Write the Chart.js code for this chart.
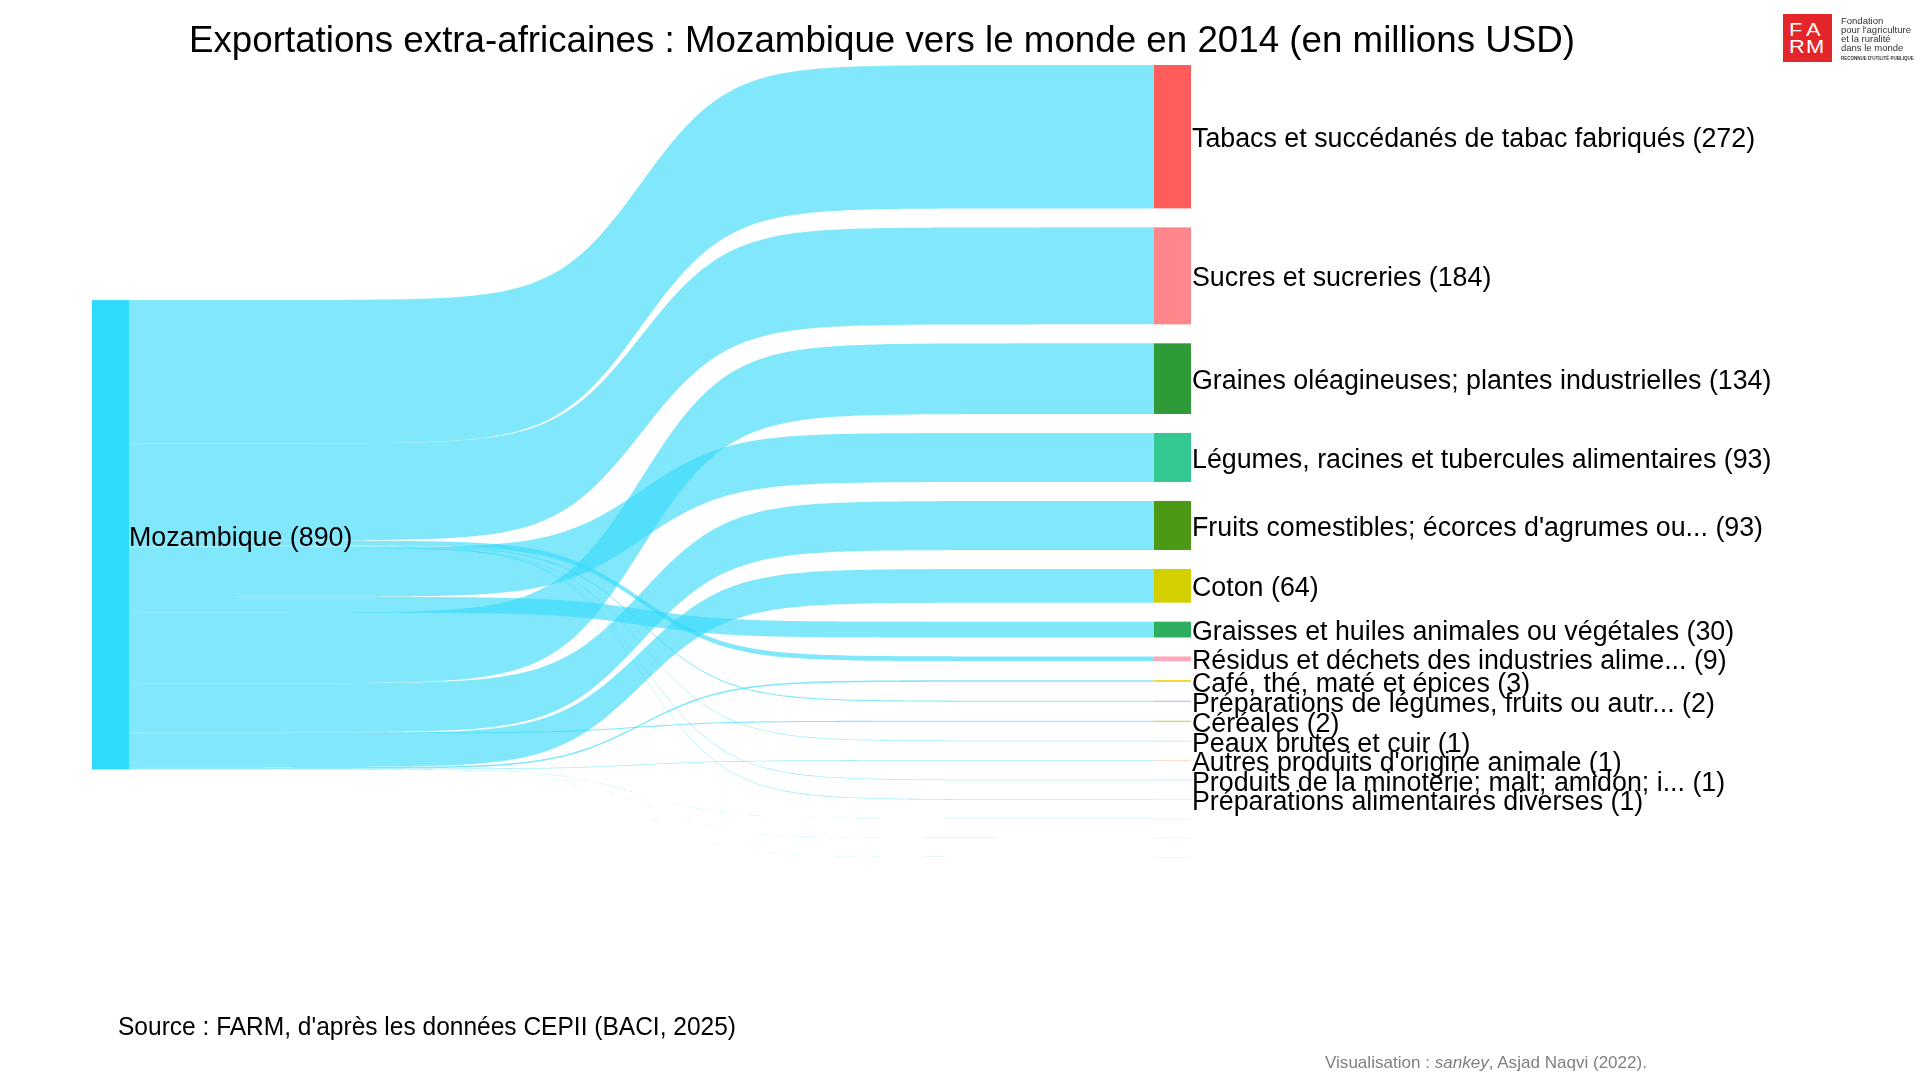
<!DOCTYPE html>
<html>
<head>
<meta charset="utf-8">
<script src="https://cdn.jsdelivr.net/npm/chart.js@4.4.1/dist/chart.umd.min.js"></script>
<style>
html,body{margin:0;padding:0;background:#fff;}
#wrap{position:relative;width:1920px;height:1080px;overflow:hidden;font-family:'Liberation Sans',Arial,sans-serif;background:#fff;}
#c{position:absolute;left:0;top:0;}
.txt{position:absolute;white-space:nowrap;line-height:1;transform-origin:0 0;}
#title{left:189px;top:21px;font-size:37px;color:#000;}
#source{left:118px;top:1013px;font-size:26px;color:#000;}
#viz{left:1325px;top:1054px;font-size:17px;color:#808080;}
#logo{position:absolute;left:1783px;top:14px;width:49px;height:48px;background:#E4252A;color:#fff;font-size:17.5px;line-height:1;}
#logo span{position:absolute;font-weight:500;transform:scaleX(1.25);transform-origin:0 0;}
#logotxt{position:absolute;left:1841px;top:16px;font-size:9.5px;line-height:9px;color:#333;}
#logotxt .small{font-size:4.5px;font-weight:bold;line-height:8px;}
</style>
</head>
<body>
<div id="wrap">
  <canvas id="c" width="1920" height="1080"></canvas>
  <div id="title" class="txt">Exportations extra-africaines : Mozambique vers le monde en 2014 (en millions USD)</div>
  <div id="source" class="txt">Source : FARM, d'après les données CEPII (BACI, 2025)</div>
  <div id="viz" class="txt">Visualisation : <i>sankey</i>, Asjad Naqvi (2022).</div>
  <div id="logo"><span style="left:6px;top:8px">F</span><span style="left:23px;top:8px">A</span><span style="left:6px;top:25px">R</span><span style="left:23px;top:25px">M</span></div>
  <div id="logotxt">Fondation<br>pour l'agriculture<br>et la ruralité<br>dans le monde<br><span class="small">RECONNUE D'UTILITÉ PUBLIQUE</span></div>
</div>
<script>
// ---------------- DATA ----------------
const sourceName = 'Mozambique';
const categories = [
  'Tabacs et succédanés de tabac fabriqués',
  'Sucres et sucreries',
  'Graines oléagineuses; plantes industrielles',
  'Légumes, racines et tubercules alimentaires',
  "Fruits comestibles; écorces d'agrumes ou...",
  'Coton',
  'Graisses et huiles animales ou végétales',
  'Résidus et déchets des industries alime...',
  'Café, thé, maté et épices',
  'Préparations de légumes, fruits ou autr...',
  'Céréales',
  'Peaux brutes et cuir',
  "Autres produits d'origine animale",
  'Produits de la minoterie; malt; amidon; i...',
  'Préparations alimentaires diverses',
  '',
  '',
  ''
];
const exportValues = [272, 184, 134, 93, 93, 64, 30, 9, 3, 2, 2, 1, 1, 1, 1, 0.2, 0.15, 0.1];
const nodeColors = [
  '#FF5C5C', '#FF868A', '#2E9B38', '#33C891', '#4C9916', '#D4D000', '#2DAF5F',
  '#FFA8BC', '#F5CE10', '#C0A8FF', '#C8CF40', '#A8D8F0', '#FFC8A8', '#C0D0FF',
  '#E0E0FF', '#FFE4D4', '#E4EEFF', '#FFE4DC'
];
const sourceColor = '#2EDBFA';
const flowColor = 'rgba(51,218,250,0.62)';

// ---------------- LAYOUT ----------------
const GAP_UNITS = 36;          // gap between target nodes, in value units
const LEFT_OFFSET = 446;       // vertical offset of source node, in value units
const NODE_W = 37;             // node width in px
const SMOOTH = 24;             // sigmoid steepness
const FONT_PX = 26.8;
const FONT = FONT_PX + 'px "Liberation Sans", Arial, sans-serif';

const total = exportValues.reduce((a, b) => a + b, 0);
const yMax = total + (exportValues.length - 1) * GAP_UNITS;

// order of outgoing flows on the source node (reverse code-point order of names)
const sourceOrder = categories.map((c, i) => i).sort((a, b) => {
  const A = categories[a], B = categories[b];
  if (A === B) return a - b;
  return A < B ? 1 : -1;
});

function sig(t) {
  const L = u => 1 / (1 + Math.exp(-SMOOTH * (u - 0.5)));
  const l0 = L(0), l1 = L(1);
  return (L(t) - l0) / (l1 - l0);
}

const sankeyPlugin = {
  id: 'sankeyDraw',
  afterDatasetsDraw(chart) {
    const ctx = chart.ctx;
    const xs = chart.scales.x, ys = chart.scales.y;
    const xL0 = xs.getPixelForValue(0), xL1 = xL0 + NODE_W;
    const xR1 = xs.getPixelForValue(1), xR0 = xR1 - NODE_W;

    const tgt = [];
    let acc = 0;
    exportValues.forEach((v, i) => { tgt[i] = [acc, acc + v]; acc += v + GAP_UNITS; });
    const src = [];
    let lacc = LEFT_OFFSET;
    sourceOrder.forEach(i => { src[i] = [lacc, lacc + exportValues[i]]; lacc += exportValues[i]; });

    ctx.save();
    const N = 140;
    exportValues.forEach((v, i) => {
      const a0 = ys.getPixelForValue(src[i][0]), a1 = ys.getPixelForValue(src[i][1]);
      const b0 = ys.getPixelForValue(tgt[i][0]), b1 = ys.getPixelForValue(tgt[i][1]);
      ctx.beginPath();
      for (let s = 0; s <= N; s++) {
        const t = s / N, f = sig(t);
        const x = xL1 + t * (xR0 - xL1);
        const y = a0 + (b0 - a0) * f;
        if (s === 0) ctx.moveTo(x, y); else ctx.lineTo(x, y);
      }
      for (let s = N; s >= 0; s--) {
        const t = s / N, f = sig(t);
        const x = xL1 + t * (xR0 - xL1);
        ctx.lineTo(x, a1 + (b1 - a1) * f);
      }
      ctx.closePath();
      ctx.fillStyle = flowColor;
      ctx.fill();
    });

    const sTop = ys.getPixelForValue(LEFT_OFFSET), sBot = ys.getPixelForValue(LEFT_OFFSET + total);
    ctx.fillStyle = sourceColor;
    ctx.fillRect(xL0, sTop, NODE_W, sBot - sTop);

    exportValues.forEach((v, i) => {
      const y0 = ys.getPixelForValue(tgt[i][0]), y1 = ys.getPixelForValue(tgt[i][1]);
      ctx.fillStyle = nodeColors[i];
      ctx.fillRect(xR0, y0, NODE_W, Math.max(y1 - y0, 0.6));
    });

    ctx.font = FONT;
    ctx.fillStyle = '#000';
    ctx.textBaseline = 'alphabetic';
    ctx.textAlign = 'left';
    const capOff = FONT_PX * 0.358 + 1;
    ctx.fillText(sourceName + ' (' + Math.round(total) + ')', xL1, (sTop + sBot) / 2 + capOff + 1);
    exportValues.forEach((v, i) => {
      if (!categories[i]) return;
      const yc = (ys.getPixelForValue(tgt[i][0]) + ys.getPixelForValue(tgt[i][1])) / 2;
      ctx.fillText(categories[i] + ' (' + Math.round(v) + ')', xR1 + 1, yc + capOff);
    });
    ctx.restore();
  }
};

function build() {
  new Chart(document.getElementById('c'), {
    type: 'scatter',
    data: { datasets: [{ data: [], pointRadius: 0 }] },
    options: {
      responsive: false,
      animation: false,
      events: [],
      layout: { padding: { left: 92, right: 729, top: 65, bottom: 223 } },
      scales: {
        x: { type: 'linear', min: 0, max: 1, display: false },
        y: { type: 'linear', min: 0, max: yMax, reverse: true, display: false }
      },
      plugins: { legend: { display: false }, tooltip: { enabled: false }, title: { display: false } }
    },
    plugins: [sankeyPlugin]
  });
}

function fitWidth(id, w) {
  const el = document.getElementById(id);
  el.style.transform = 'none';
  const nat = el.getBoundingClientRect().width;
  if (nat > 0) el.style.transform = 'scaleX(' + (w / nat) + ')';
}
function fitAll() {
  fitWidth('title', 1386);
  fitWidth('source', 618);
  fitWidth('viz', 322);
}
build();
fitAll();
if (document.fonts && document.fonts.ready) {
  document.fonts.ready.then(() => { fitAll(); });
}
</script>
</body>
</html>
